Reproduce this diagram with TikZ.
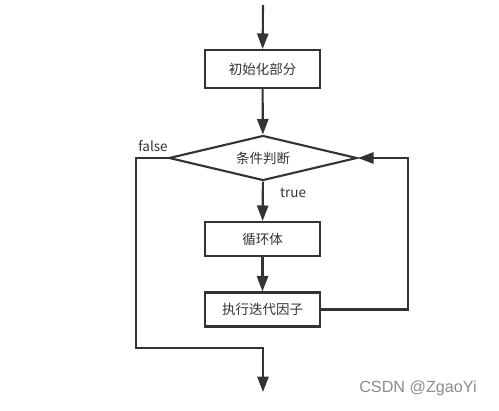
\documentclass[tikz,border=0pt]{standalone}
\usepackage{fontspec}
\setmainfont{Noto Sans CJK SC}
\newfontfamily\wmfont{Liberation Sans}
\usetikzlibrary{shapes.geometric,arrows.meta}
\definecolor{linegray}{HTML}{333333}
\definecolor{wmgray}{HTML}{8C8C8C}
\tikzset{
    box/.style={draw=linegray, line width=1.5pt, minimum width=2.875cm, minimum height=0.85cm,
        font=\fontsize{9.6}{11}\selectfont, text=linegray},
    cond/.style={diamond, draw=linegray, line width=1.5pt, aspect=4, inner sep=1pt,
        minimum width=4.7cm, minimum height=1.125cm, font=\fontsize{9.6}{11}\selectfont, text=linegray},
    flow/.style={draw=linegray, line width=1.5pt, -{Triangle[length=11pt,width=8pt]}},
    lbl/.style={font=\fontsize{9.6}{11}\selectfont, text=linegray, inner sep=1pt},
}
\begin{document}
\begin{tikzpicture}[x=0.025cm, y=-0.025cm]
    % 画布大小 (499 x 410)
    \useasboundingbox (0,0) rectangle (499,410);

    % 流程框
    \node[box, minimum height=0.95cm] (init) at (262.5,69) {初始化部分};
    \node[cond] (test) at (263,158) {条件判断};
    \node[box] (body) at (262.5,239) {循环体};
    \node[box] (iter) at (262.5,309.5) {执行迭代因子};

    % 转折点
    \coordinate (start) at (263,5);
    \coordinate (exitcorner) at (136,348);
    \coordinate (stop) at (263,392);
    \coordinate (backcorner) at (408,309.5);

    % 入口
    \draw[flow] (start) -- (init);
    \draw[flow] (init) -- (test);

    % true 分支
    \draw[flow] (test) -- node[lbl, pos=0.3, anchor=west, xshift=10.5pt] (truelbl) {true} (body);
    \draw[flow] (body) -- (iter);

    % 迭代后回到判断
    \draw[flow] (iter.east) -- (backcorner) -- (backcorner |- test.east) -- (test.east);

    % false 分支 (跳出循环)
    \node[lbl, anchor=south east] (falselbl) at ([xshift=1pt, yshift=3pt]test.west) {false};
    \draw[flow] (test.west) -- (test.west -| exitcorner) -- (exitcorner) -- (exitcorner -| stop) -- (stop);

    % 水印
    \node[font=\wmfont\fontsize{11.5}{13}\selectfont, text=wmgray] (mark) at (418,388) {CSDN @ZgaoYi};
\end{tikzpicture}
\end{document}
